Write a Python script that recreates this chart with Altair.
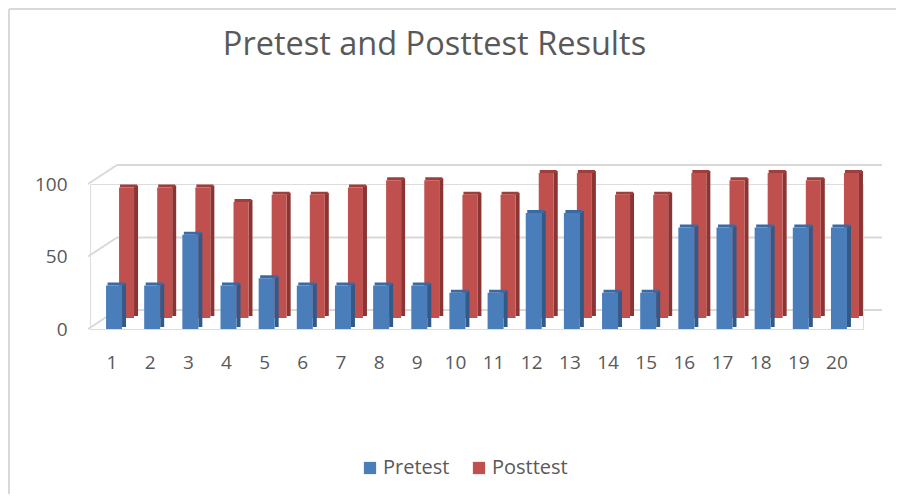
import altair as alt
import pandas as pd

students = [str(i) for i in range(1, 21)]
pretest = [30, 30, 65, 30, 35, 30, 30, 30, 30, 25, 25, 80, 80, 25, 25, 70, 70, 70, 70, 70]
posttest = [90, 90, 90, 80, 85, 85, 90, 95, 95, 85, 85, 100, 100, 85, 85, 100, 95, 100, 95, 100]
series = ["Pretest", "Posttest"]
grid_values = [0, 50, 100]

rows = []
for s, a, b in zip(students, pretest, posttest):
    rows.append({"student": s, "series": "Pretest", "score": a})
    rows.append({"student": s, "series": "Posttest", "score": b})
df = pd.DataFrame(rows)
grid = pd.DataFrame({"v": grid_values})

FONT = "Open Sans"
TXT = "#595959"
GRID = "#D9D9D9"

xenc = alt.X("student:N", sort=students,
             scale=alt.Scale(paddingInner=0.58, paddingOuter=0.42),
             axis=alt.Axis(title=None, labelAngle=0, domain=False, ticks=False, tickSize=0,
                           labelPadding=24, labelOffset=-2, labelFontSize=19,
                           labelColor=TXT, labelFont=FONT))
yenc = alt.Y("score:Q", scale=alt.Scale(domain=[0, 100], nice=False),
             axis=alt.Axis(title=None, values=grid_values, grid=False, domain=False,
                           ticks=False, tickSize=0, labelPadding=23, labelFontSize=19,
                           labelColor=TXT, labelFont=FONT))
yscale = alt.Scale(domain=[0, 100], nice=False)

base = alt.Chart(df)
pre = base.transform_filter(alt.datum.series == "Pretest")
post = base.transform_filter(alt.datum.series == "Posttest")

color = alt.Color("series:N", scale=alt.Scale(domain=series, range=["#4A7EBB", "#C0504D"]),
                  sort=series,
                  legend=alt.Legend(title=None, orient="none", direction="horizontal",
                                    legendX=270, legendY=274, symbolType="square",
                                    symbolSize=150, symbolStrokeWidth=0, labelFontSize=20,
                                    labelColor=TXT, labelFont=FONT, columnPadding=19,
                                    labelOffset=3))

back_grid = alt.Chart(grid).mark_rule(color=GRID, strokeWidth=2, yOffset=-19).encode(
    y=alt.Y("v:Q", scale=yscale), x=alt.value(27), x2=alt.value(792))
diag = alt.Chart(grid).mark_rule(color=GRID, strokeWidth=2, y2Offset=-19).encode(
    y=alt.Y("v:Q", scale=yscale), y2="v:Q", x=alt.value(-2), x2=alt.value(27))

RX = 12.5
RY = -11
red_side = post.mark_bar(width=4, xOffset=RX + 9.5, yOffset=RY - 2, y2Offset=RY - 2,
                         color="#8A3533").encode(x=xenc, y=alt.Y("score:Q", scale=yscale))
red_top = post.mark_bar(width=17, xOffset=RX + 2, yOffset=RY - 3, y2Offset=RY,
                        color="#9E3F3C").encode(x=xenc, y=alt.Y("score:Q", scale=yscale),
                                                y2="score:Q")
red_face = post.mark_bar(width=15, xOffset=RX, yOffset=RY, y2Offset=RY).encode(
    x=xenc, y=alt.Y("score:Q", scale=yscale), color=color)

blue_side = pre.mark_bar(width=4, xOffset=10, yOffset=-2, y2Offset=-2,
                         color="#335987").encode(x=xenc, y=alt.Y("score:Q", scale=yscale))
blue_top = pre.mark_bar(width=17, xOffset=2, yOffset=-3, y2Offset=0,
                        color="#3B69A3").encode(x=xenc, y=alt.Y("score:Q", scale=yscale),
                                                y2="score:Q")
blue_face = pre.mark_bar(width=16).encode(x=xenc, y=yenc, color=color)

border_top = alt.Chart(grid).mark_rule(color=GRID, strokeWidth=2).encode(
    x=alt.value(-81), x2=alt.value(830), y=alt.value(-175))
border_left = alt.Chart(grid).mark_rule(color=GRID, strokeWidth=2).encode(
    x=alt.value(-81), y=alt.value(-175), y2=alt.value(340))

chart = alt.layer(
    border_top, border_left, back_grid, diag,
    red_side, red_top, red_face, blue_side, blue_top, blue_face
).properties(
    width=773, height=145,
    title=alt.TitleParams("Pretest and Posttest Results", font=FONT, fontSize=32.5,
                          fontWeight="normal", color=TXT, anchor="middle", dx=-42, dy=57),
    autosize=alt.AutoSizeParams(type="none"),
    padding={"left": 82, "top": 176, "right": 33, "bottom": 165},
).configure_view(stroke=None).configure(background="white")

chart.save("out.html", embed_options={"renderer": "svg", "actions": False})
